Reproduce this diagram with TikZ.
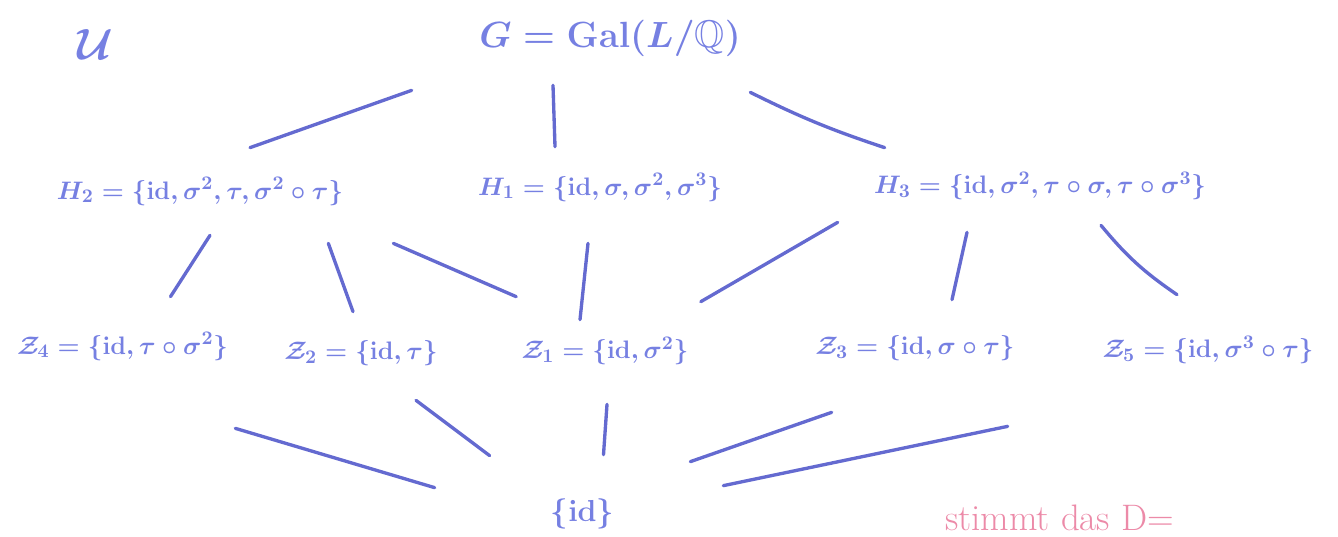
\documentclass[tikz,border=0pt]{standalone}
\usepackage{amssymb}
\usetikzlibrary{calc}
\definecolor{ink}{RGB}{118,128,226}
\definecolor{lineink}{RGB}{100,106,208}
\definecolor{pinkink}{RGB}{236,138,168}
\begin{document}
\begin{tikzpicture}[x=0.02cm,y=-0.02cm,
  set/.style={text=ink, inner sep=0pt, font=\fontsize{15.5}{19}\selectfont\boldmath},
  edge/.style={draw=lineink, line width=1.9pt, line cap=round}]
\useasboundingbox (0,0) rectangle (1338,537);
\clip (0,0) rectangle (1338,537);
% labels
\node[text=ink, inner sep=0pt, font=\fontsize{30}{34}\selectfont\boldmath] (U) at (95,45) {$\mathcal{U}$};
\node[set, minimum width=5.6cm, minimum height=0.94cm, font=\fontsize{22}{26}\selectfont\boldmath] (G) at (610,38.5) {$G=\mathrm{Gal}(L/\mathbb{Q})$};
\node[set, minimum width=6.2cm, minimum height=0.94cm] (H2) at (200,191.5) {$H_2=\{\mathrm{id},\sigma^2,\tau,\sigma^2\circ\tau\}$};
\node[set, minimum width=4.8cm, minimum height=0.9cm] (H1) at (600,187.5) {$H_1=\{\mathrm{id},\sigma,\sigma^2,\sigma^3\}$};
\node[set, minimum width=7.4cm, minimum height=0.84cm] (H3) at (1040,186) {$H_3=\{\mathrm{id},\sigma^2,\tau\circ\sigma,\tau\circ\sigma^3\}$};
\node[set, minimum width=4.5cm, minimum height=0.86cm] (Z4) at (122.5,346.5) {$\mathcal{Z}_4=\{\mathrm{id},\tau\circ\sigma^2\}$};
\node[set, minimum width=3.04cm, minimum height=0.74cm] (Z2) at (361,353.5) {$\mathcal{Z}_2=\{\mathrm{id},\tau\}$};
\node[set, minimum width=3.2cm, minimum height=0.84cm] (Z1) at (605,351) {$\mathcal{Z}_1=\{\mathrm{id},\sigma^2\}$};
\node[set, minimum width=4.0cm, minimum height=0.72cm] (Z3) at (915,348) {$\mathcal{Z}_3=\{\mathrm{id},\sigma\circ\tau\}$};
\node[set, minimum width=4.4cm, minimum height=0.8cm] (Z5) at (1208,350) {$\mathcal{Z}_5=\{\mathrm{id},\sigma^3\circ\tau\}$};
\node[set, minimum width=1.5cm, minimum height=0.74cm, font=\fontsize{19}{22}\selectfont\boldmath] (id) at (582.5,513.5) {$\{\mathrm{id}\}$};
\node[text=pinkink, inner sep=0pt, anchor=base west, font=\fontsize{21}{24}\selectfont] (note) at (945,530) {stimmt das D=};
% top level
\draw[edge] ([shift={(-58,28)}]G.south west) -- ([shift={(50,-20)}]H2.north);
\draw[edge] ([shift={(-57,23)}]G.south) -- ([shift={(-45,-18)}]H1.north);
\draw[edge] ([shift={(0,30)}]G.south east) to[bend right=4] ([shift={(30,-17)}]H3.north west);
% middle level
\draw[edge] ([shift={(10,20)}]H2.south) -- ([shift={(48,-28)}]Z4.north);
\draw[edge] ([shift={(-27,28)}]H2.south east) -- ([shift={(-8,-23)}]Z2.north);
\draw[edge] ([shift={(38,28)}]H2.south east) -- ([shift={(-5,-33)}]Z1.north west);
\draw[edge] ([shift={(-12,33)}]H1.south) -- ([shift={(-25,-10)}]Z1.north);
\draw[edge] ([shift={(-17,15)}]H3.south west) -- ([shift={(12,-28)}]Z1.north east);
\draw[edge] ([shift={(-73,25)}]H3.south) -- ([shift={(37,-30)}]Z3.north);
\draw[edge] ([shift={(61,18)}]H3.south) to[bend right=8] ([shift={(-31,-35)}]Z5.north);
% bottom level
\draw[edge] ([shift={(0,60)}]Z4.south east) -- ([shift={(-110,-7)}]id.north west);
\draw[edge] ([shift={(55,28)}]Z2.south) -- ([shift={(-55,-39)}]id.north west);
\draw[edge] ([shift={(2,32)}]Z1.south) -- ([shift={(21,-40)}]id.north);
\draw[edge] ([shift={(17,46)}]Z3.south west) -- ([shift={(70,-33)}]id.north east);
\draw[edge] ([shift={(-90,56)}]Z5.south west) -- ([shift={(103,-9)}]id.north east);
\end{tikzpicture}
\end{document}
